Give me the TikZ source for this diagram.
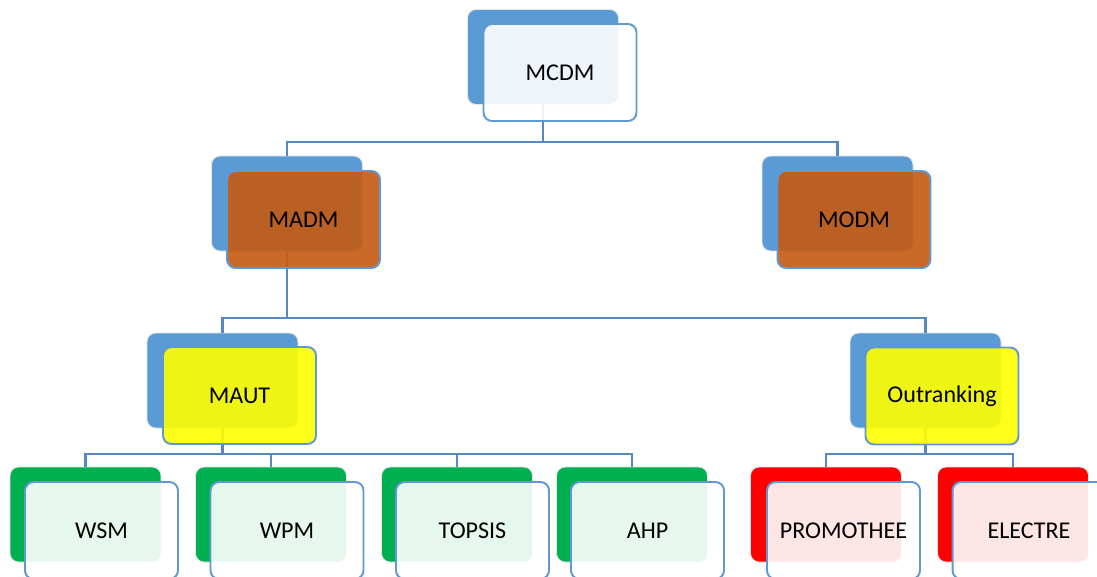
\documentclass[tikz,border=0pt]{standalone}
\usepackage{fontspec}
\setmainfont{Carlito}
\definecolor{bblue}{RGB}{91,155,213}
\definecolor{borange}{RGB}{197,90,17}
\definecolor{byellow}{RGB}{255,255,0}
\definecolor{bgreen}{RGB}{0,176,80}
\definecolor{bred}{RGB}{255,0,0}
\definecolor{fline}{RGB}{96,152,210}
\definecolor{conn}{RGB}{86,136,196}
\begin{document}
\begin{tikzpicture}[x=0.02cm,y=-0.02cm,
  back/.style={rounded corners=0.17cm, minimum width=3.02cm, minimum height=1.9cm,
    draw=black!10, line width=0.5pt, inner sep=0pt, outer sep=0pt, fill=#1},
  front/.style={rounded corners=0.17cm, minimum width=3.06cm, minimum height=1.94cm,
    draw=fline, line width=1.1pt, inner sep=0pt, outer sep=0pt, fill=#1,
    fill opacity=0.9, text opacity=1, text=black,
    font=\fontsize{13.7}{16}\selectfont},
  link/.style={draw=conn, line width=1.4pt}]
\useasboundingbox (0,0) rectangle (1097,576);
\clip (0,0) rectangle (1097,576);
\fill[white] (0,0) rectangle (1097,576);

% back boxes
\node[back=bblue] (mcdmB) at (543,57) {};
\node[back=bblue] (madmB) at (287,203.5) {};
\node[back=bblue] (modmB) at (837.5,203.5) {};
\node[back=bblue] (mautB) at (222.5,380.5) {};
\node[back=bblue] (outB) at (925.5,380.5) {};
\node[back=bgreen] (wsmB) at (85.5,514.5) {};
\node[back=bgreen] (wpmB) at (271,514.5) {};
\node[back=bgreen] (topB) at (457,514.5) {};
\node[back=bgreen] (ahpB) at (632,514.5) {};
\node[back=bred] (proB) at (826,514.5) {};
\node[back=bred] (eleB) at (1013,514.5) {};

% connectors
\coordinate (bus1) at (543,142);
\coordinate (bus2) at (287,318);
\coordinate (bus3) at (222.5,454);
\coordinate (bus4) at (925.5,454);
\draw[link] (mcdmB.south) -- (bus1) -| (madmB.north);
\draw[link] (bus1) -| (modmB.north);
\draw[link] (madmB.south) -- (bus2) -| (mautB.north);
\draw[link] (bus2) -| (outB.north);
\draw[link] (mautB.south) -- (bus3) -| (wsmB.north);
\draw[link] (bus3) -| (wpmB.north);
\draw[link] (bus3) -| (topB.north);
\draw[link] (bus3) -| (ahpB.north);
\draw[link] (outB.south) -- (bus4) -| (proB.north);
\draw[link] (bus4) -| (eleB.north);

% front boxes
\node[front=white] (mcdm) at (560,72.5) {MCDM};
\node[front=borange] (madm) at (303.5,219.5) {MADM};
\node[front=borange] (modm) at (854,219.5) {MODM};
\node[front=byellow] (maut) at (239.5,395.5) {MAUT};
\node[front=byellow] (out) at (942,396) {Outranking};
\node[front=white] (wsm) at (101.5,530.5) {WSM};
\node[front=white] (wpm) at (287,530.5) {WPM};
\node[front=white] (top) at (472.5,530.5) {TOPSIS};
\node[front=white] (ahp) at (647.5,530.5) {AHP};
\node[front=white] (pro) at (843.5,530.5) {PROMOTHEE};
\node[front=white] (ele) at (1029,530.5) {ELECTRE};
\end{tikzpicture}
\end{document}
